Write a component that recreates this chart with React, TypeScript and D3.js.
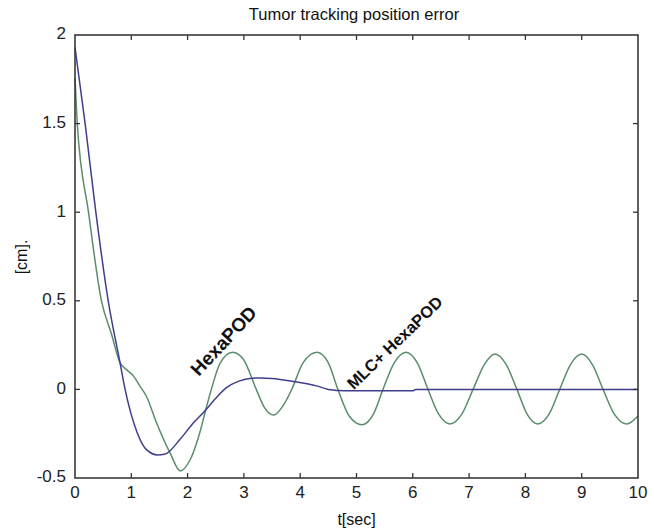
import React, { useRef, useEffect } from 'react';
import * as d3 from 'd3';

// green curve: HexaPOD alone
const hexaT = [0, 0.02, 0.04, 0.24, 0.47, 0.65, 0.8, 0.92, 1.04, 1.15, 1.27, 1.45, 1.69, 1.87, 2.04, 2.22, 2.31, 2.43, 2.58, 2.8, 2.99, 3.22, 3.36, 3.53, 3.7, 3.85, 4.05, 4.3, 4.5, 4.67, 4.87, 5.1, 5.3, 5.47, 5.67, 5.88, 6.08, 6.27, 6.46, 6.66, 6.87, 7.07, 7.27, 7.46, 7.66, 7.85, 8.03, 8.22, 8.42, 8.61, 8.8, 9.0, 9.19, 9.38, 9.58, 9.8, 10];
const hexaV = [1.76, 1.63, 1.5, 1.0, 0.5, 0.31, 0.15, 0.11, 0.075, 0.02, -0.04, -0.19, -0.36, -0.46, -0.4, -0.24, -0.13, 0.01, 0.15, 0.21, 0.17, 0.0, -0.1, -0.145, -0.09, 0.0, 0.15, 0.21, 0.15, 0.0, -0.15, -0.2, -0.14, 0.0, 0.15, 0.21, 0.15, 0.0, -0.14, -0.195, -0.14, 0.0, 0.14, 0.2, 0.14, 0.0, -0.14, -0.195, -0.14, 0.0, 0.14, 0.2, 0.14, 0.0, -0.14, -0.195, -0.15];

// blue curve: MLC + HexaPOD
const mlcT = [0, 0.18, 0.37, 0.59, 0.8, 0.89, 1.1, 1.27, 1.47, 1.6, 1.87, 2.1, 2.31, 2.5, 2.69, 2.9, 3.1, 3.3, 3.5, 3.88, 4.29, 4.5, 4.8, 6.0, 6.05, 10];
const mlcV = [1.93, 1.5, 1.0, 0.5, 0.15, 0.0, -0.24, -0.34, -0.37, -0.365, -0.28, -0.19, -0.12, -0.05, 0.01, 0.045, 0.062, 0.065, 0.062, 0.045, 0.02, 0.0, -0.008, -0.008, 0, 0];

const xTicks = [0, 1, 2, 3, 4, 5, 6, 7, 8, 9, 10];
const yTicks = [-0.5, 0, 0.5, 1, 1.5, 2];

const width = 654;
const height = 532;
const marginLeft = 75;
const marginRight = 16;
const marginTop = 35;
const marginBottom = 54;
const tickLen = 5;
const font = '"Liberation Sans", Arial, sans-serif';

const x = d3.scaleLinear().domain([0, 10]).range([marginLeft, width - marginRight]);
const y = d3.scaleLinear().domain([-0.5, 2]).range([height - marginBottom, marginTop]);

function drawChart(node) {
  const svg = d3.select(node);
  svg.selectAll('*').remove();

  const x0 = x.range()[0], x1 = x.range()[1];
  const y0 = y.range()[0], y1 = y.range()[1];

  // curves
  const line = d3.line().x(d => x(d[0])).y(d => y(d[1])).curve(d3.curveMonotoneX);
  svg.append('path')
    .datum(hexaT.map((t, i) => [t, hexaV[i]]))
    .attr('d', line)
    .attr('fill', 'none')
    .attr('stroke', '#5b8c6c')
    .attr('stroke-width', 1.5);
  svg.append('path')
    .datum(mlcT.map((t, i) => [t, mlcV[i]]))
    .attr('d', line)
    .attr('fill', 'none')
    .attr('stroke', '#3f3f8e')
    .attr('stroke-width', 1.5);

  // box
  svg.append('rect')
    .attr('x', x0).attr('y', y1)
    .attr('width', x1 - x0).attr('height', y0 - y1)
    .attr('fill', 'none').attr('stroke', '#3a3a3a').attr('stroke-width', 1.6);

  // ticks on all four sides, pointing in
  const ticks = svg.append('g').attr('stroke', '#333').attr('stroke-width', 1.3);
  xTicks.slice(1, -1).forEach(t => {
    ticks.append('line').attr('x1', x(t)).attr('x2', x(t)).attr('y1', y0).attr('y2', y0 - tickLen);
    ticks.append('line').attr('x1', x(t)).attr('x2', x(t)).attr('y1', y1).attr('y2', y1 + tickLen);
  });
  yTicks.slice(1, -1).forEach(v => {
    ticks.append('line').attr('x1', x0).attr('x2', x0 + tickLen).attr('y1', y(v)).attr('y2', y(v));
    ticks.append('line').attr('x1', x1).attr('x2', x1 - tickLen).attr('y1', y(v)).attr('y2', y(v));
  });

  // tick labels
  svg.append('g').selectAll('text').data(xTicks).join('text')
    .attr('x', d => x(d)).attr('y', y0 + 16)
    .attr('text-anchor', 'middle').attr('dominant-baseline', 'middle')
    .attr('font-family', font).attr('font-size', 17).attr('fill', '#222')
    .text(d => d);
  svg.append('g').selectAll('text').data(yTicks).join('text')
    .attr('x', x0 - 9).attr('y', d => y(d))
    .attr('text-anchor', 'end').attr('dominant-baseline', 'middle')
    .attr('font-family', font).attr('font-size', 17).attr('fill', '#222')
    .text(d => d);

  // titles
  svg.append('text')
    .attr('x', 354).attr('y', 16)
    .attr('text-anchor', 'middle').attr('dominant-baseline', 'middle')
    .attr('font-family', font).attr('font-size', 16.5).attr('fill', '#111')
    .text('Tumor tracking position error');
  svg.append('text')
    .attr('x', (x0 + x1) / 2).attr('y', 521)
    .attr('text-anchor', 'middle').attr('dominant-baseline', 'middle')
    .attr('font-family', font).attr('font-size', 16).attr('fill', '#111')
    .text('t[sec]');
  svg.append('text')
    .attr('transform', `translate(23,${257}) rotate(-90)`)
    .attr('text-anchor', 'middle').attr('dominant-baseline', 'middle')
    .attr('font-family', font).attr('font-size', 16).attr('fill', '#111')
    .text('[cm].');

  // curve annotations
  svg.append('text')
    .attr('transform', `translate(${x(2.2)},${y(0.07)}) rotate(-47)`)
    .attr('font-family', font).attr('font-weight', 'bold')
    .attr('font-size', 19).attr('fill', '#111')
    .text('HexaPOD');
  svg.append('text')
    .attr('transform', `translate(${x(4.95)},${y(-0.005)}) rotate(-44)`)
    .attr('font-family', font).attr('font-weight', 'bold')
    .attr('font-size', 16.5).attr('fill', '#111')
    .text('MLC+ HexaPOD');
}

const App = () => {
  const svgRef = useRef(null);

  useEffect(() => {
    if (svgRef.current) drawChart(svgRef.current);
  }, [svgRef]);

  return (
    <svg
      ref={svgRef}
      width={width}
      height={height}
      style={{ position: 'absolute', left: 0, top: 0, background: '#fff' }}
    />
  );
};

export default App;
